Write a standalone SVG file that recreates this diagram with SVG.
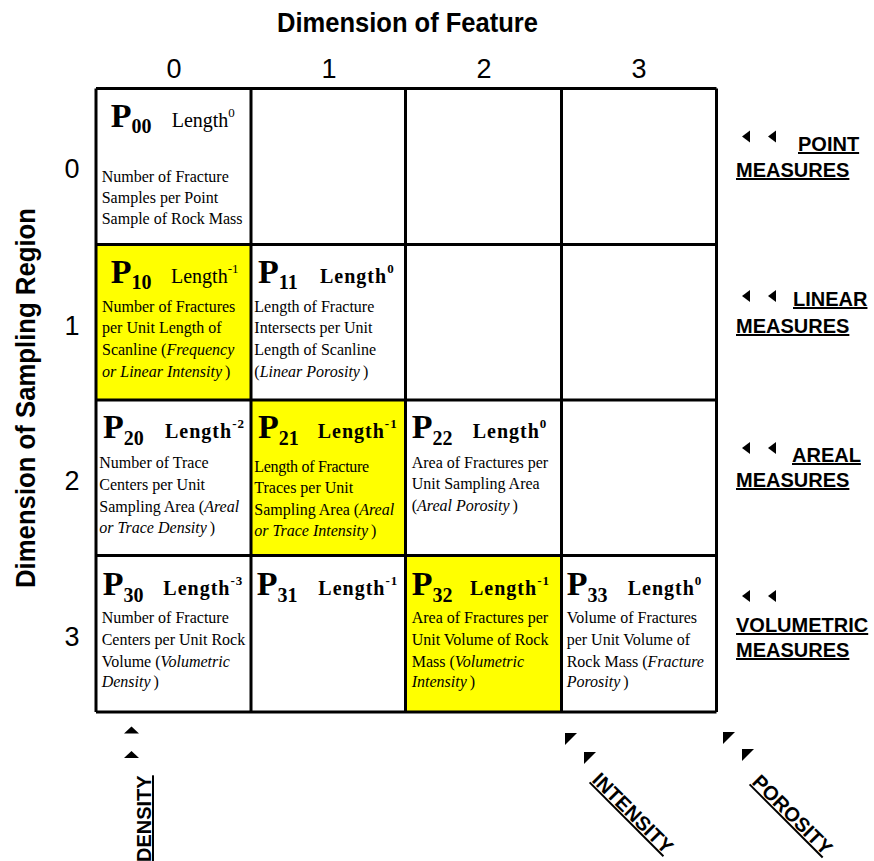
<svg xmlns="http://www.w3.org/2000/svg" width="874" height="861" viewBox="0 0 874 861">
<style>
.bg{fill:#fff}
.hl{fill:#ffff00}
.grid{fill:none;stroke:#000;stroke-width:3}
.serif{font-family:"Liberation Serif","Times New Roman",serif;fill:#000}
.p{font-weight:bold;font-size:34px}
.sub{font-size:20px}
.len{font-size:20px}
.lb{font-weight:bold;letter-spacing:1px}
.sup{font-size:13px}
.body{font-size:16px}
.it{font-style:italic}
.sans{font-family:"Liberation Sans",Arial,sans-serif;fill:#000}
.ttl{font-weight:bold;font-size:28px}
.num{font-size:27px}
.lab{font-weight:bold;font-size:20px;text-decoration:underline}
.tri{fill:#000}
</style>
<rect class="bg" x="0" y="0" width="874" height="861"/>

<g id="titles">
<text class="sans ttl" x="407.5" y="32" text-anchor="middle" textLength="261" lengthAdjust="spacingAndGlyphs">Dimension of Feature</text>
<text class="sans ttl" transform="translate(35,398) rotate(-90)" x="0" y="0" text-anchor="middle" textLength="380" lengthAdjust="spacingAndGlyphs">Dimension of Sampling Region</text>
<text class="sans num" x="174" y="78" text-anchor="middle">0</text>
<text class="sans num" x="329" y="78" text-anchor="middle">1</text>
<text class="sans num" x="484" y="78" text-anchor="middle">2</text>
<text class="sans num" x="639" y="78" text-anchor="middle">3</text>
<text class="sans num" x="72" y="178" text-anchor="middle">0</text>
<text class="sans num" x="72" y="335" text-anchor="middle">1</text>
<text class="sans num" x="72" y="490" text-anchor="middle">2</text>
<text class="sans num" x="72" y="646" text-anchor="middle">3</text>
</g>

<g id="highlights">
<rect class="hl" x="96" y="244.5" width="155" height="155.5"/>
<rect class="hl" x="251" y="400" width="154.5" height="155.5"/>
<rect class="hl" x="405.5" y="555.5" width="156" height="156.5"/>
</g>

<g id="grid">
<path class="grid" d="M96,88.5V712M251,88.5V712M405.5,88.5V712M561.5,88.5V712M716.5,88.5V712M96,88.5H716.5M96,244.5H716.5M96,400H716.5M96,555.5H716.5M96,712H716.5"/>
</g>

<g id="P00" class="serif">
<text class="p" x="110.7" y="126.7">P<tspan class="sub" dy="6">00</tspan></text>
<text class="len" x="171.7" y="126.7">Length<tspan class="sup" dy="-10">0</tspan></text>
<text class="body" x="101.7" y="181.7">Number of Fracture</text>
<text class="body" x="101.7" y="202.5">Samples per Point</text>
<text class="body" x="101.7" y="223.5">Sample of Rock Mass</text>
</g>

<g id="P10" class="serif">
<text class="p" x="110.7" y="283">P<tspan class="sub" dy="6">10</tspan></text>
<text class="len" x="171" y="283">Length<tspan class="sup" dy="-10">-1</tspan></text>
<text class="body" x="102" y="311.7">Number of Fractures</text>
<text class="body" x="102" y="333">per Unit Length of</text>
<text class="body" x="102" y="355">Scanline (<tspan class="it">Frequency</tspan></text>
<text class="body" x="102" y="376.5"><tspan class="it">or Linear Intensity</tspan><tspan dx="3">)</tspan></text>
</g>

<g id="P11" class="serif">
<text class="p" x="258" y="282.5">P<tspan class="sub" dy="6">11</tspan></text>
<text class="len lb" x="320" y="282.5">Length<tspan class="sup" dy="-10">0</tspan></text>
<text class="body" x="254.3" y="311.7">Length of Fracture</text>
<text class="body" x="254.3" y="333">Intersects per Unit</text>
<text class="body" x="254.3" y="355">Length of Scanline</text>
<text class="body" x="254.3" y="376.5">(<tspan class="it">Linear Porosity</tspan><tspan dx="3">)</tspan></text>
</g>

<g id="P20" class="serif">
<text class="p" x="103" y="438.3">P<tspan class="sub" dy="7">20</tspan></text>
<text class="len lb" x="165" y="438.3">Length<tspan class="sup" dy="-10">-2</tspan></text>
<text class="body" x="99.3" y="468">Number of Trace</text>
<text class="body" x="99.3" y="489.5">Centers per Unit</text>
<text class="body" x="99.3" y="511.5">Sampling Area (<tspan class="it">Areal</tspan></text>
<text class="body" x="99.3" y="532.5"><tspan class="it">or Trace Density</tspan><tspan dx="3">)</tspan></text>
</g>

<g id="P21" class="serif">
<text class="p" x="258" y="438.3">P<tspan class="sub" dy="7">21</tspan></text>
<text class="len lb" x="317.7" y="438.3">Length<tspan class="sup" dy="-10">-1</tspan></text>
<text class="body" x="254.3" y="472" letter-spacing="-0.3">Length of Fracture</text>
<text class="body" x="254.3" y="493">Traces per Unit</text>
<text class="body" x="254.3" y="514.5">Sampling Area (<tspan class="it">Areal</tspan></text>
<text class="body" x="254.3" y="535.5"><tspan class="it">or Trace Intensity</tspan><tspan dx="3">)</tspan></text>
</g>

<g id="P22" class="serif">
<text class="p" x="411.7" y="438.3">P<tspan class="sub" dy="7">22</tspan></text>
<text class="len lb" x="472.7" y="438.3">Length<tspan class="sup" dy="-10">0</tspan></text>
<text class="body" x="411.7" y="468">Area of Fractures per</text>
<text class="body" x="411.7" y="489">Unit Sampling Area</text>
<text class="body" x="411.7" y="510.5">(<tspan class="it">Areal Porosity</tspan><tspan dx="3">)</tspan></text>
</g>

<g id="P30" class="serif">
<text class="p" x="102.7" y="595">P<tspan class="sub" dy="7">30</tspan></text>
<text class="len lb" x="163.3" y="595">Length<tspan class="sup" dy="-10">-3</tspan></text>
<text class="body" x="101.7" y="623">Number of Fracture</text>
<text class="body" x="101.7" y="644.5">Centers per Unit Rock</text>
<text class="body" x="101.7" y="666.5">Volume (<tspan class="it">Volumetric</tspan></text>
<text class="body" x="101.7" y="687"><tspan class="it">Density</tspan><tspan dx="3">)</tspan></text>
</g>

<g id="P31" class="serif">
<text class="p" x="256.7" y="595">P<tspan class="sub" dy="7">31</tspan></text>
<text class="len lb" x="318.3" y="595">Length<tspan class="sup" dy="-10">-1</tspan></text>
</g>

<g id="P32" class="serif">
<text class="p" x="411.7" y="595">P<tspan class="sub" dy="7">32</tspan></text>
<text class="len lb" x="470" y="595">Length<tspan class="sup" dy="-10">-1</tspan></text>
<text class="body" x="411.7" y="623">Area of Fractures per</text>
<text class="body" x="411.7" y="644.5">Unit Volume of Rock</text>
<text class="body" x="411.7" y="666.5">Mass (<tspan class="it">Volumetric</tspan></text>
<text class="body" x="411.7" y="687"><tspan class="it">Intensity</tspan><tspan dx="3">)</tspan></text>
</g>

<g id="P33" class="serif">
<text class="p" x="566.7" y="595">P<tspan class="sub" dy="7">33</tspan></text>
<text class="len lb" x="627.7" y="595">Length<tspan class="sup" dy="-10">0</tspan></text>
<text class="body" x="566.7" y="623">Volume of Fractures</text>
<text class="body" x="566.7" y="644.5">per Unit Volume of</text>
<text class="body" x="566.7" y="666.5">Rock Mass (<tspan class="it">Fracture</tspan></text>
<text class="body" x="566.7" y="687"><tspan class="it">Porosity</tspan><tspan dx="3">)</tspan></text>
</g>

<g id="measure-labels" class="sans">
<text class="lab" x="798" y="151">POINT</text>
<text class="lab" x="736" y="177">MEASURES</text>
<text class="lab" x="793" y="306">LINEAR</text>
<text class="lab" x="736" y="333">MEASURES</text>
<text class="lab" x="792" y="462">AREAL</text>
<text class="lab" x="736" y="487">MEASURES</text>
<text class="lab" x="736" y="632">VOLUMETRIC</text>
<text class="lab" x="736" y="657">MEASURES</text>
<text class="lab" transform="translate(151,862) rotate(-90)" x="0" y="0">DENSITY</text>
<text class="lab" transform="translate(591,781) rotate(45)" x="0" y="0" font-size="22">INTENSITY</text>
<text class="lab" transform="translate(751,783) rotate(45)" x="0" y="0" font-size="22">POROSITY</text>
</g>

<g id="pointers">
<polygon class="tri" points="742,136.5 750,130.5 750,142.5"/>
<polygon class="tri" points="768,136.5 776,130.5 776,142.5"/>
<polygon class="tri" points="742,296 750,290 750,302"/>
<polygon class="tri" points="768,296 776,290 776,302"/>
<polygon class="tri" points="742,448 750,442 750,454"/>
<polygon class="tri" points="768,448 776,442 776,454"/>
<polygon class="tri" points="742,596 750,590 750,602"/>
<polygon class="tri" points="768,596 776,590 776,602"/>
<polygon class="tri" points="131.5,726.5 139,733.5 124,733.5"/>
<polygon class="tri" points="131.5,751 139,758 124,758"/>
<polygon class="tri" points="565,733 577,733 565,745"/>
<polygon class="tri" points="584,752 596,752 584,764"/>
<polygon class="tri" points="723,732 735,732 723,744"/>
<polygon class="tri" points="742,749 754,749 742,761"/>
</g>
</svg>
